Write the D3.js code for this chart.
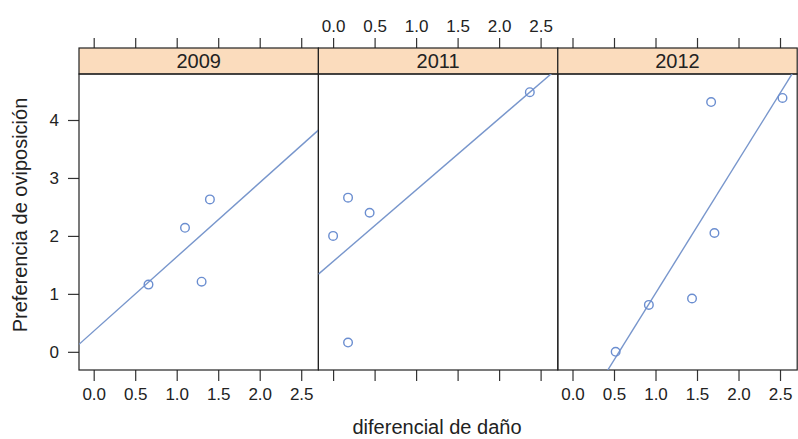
<!DOCTYPE html>
<html>
<head>
<meta charset="utf-8">
<script src="https://cdn.jsdelivr.net/npm/d3@7"></script>
<style>
  body { margin: 0; background: #fff; }
  svg text { font-family: "Liberation Sans", Arial, sans-serif; fill: #222; }
</style>
</head>
<body>
<svg id="chart" width="798" height="439"></svg>
<script>
// Panels (years) and the points of each one
var years = ["2009", "2011", "2012"];

var dano2009 = [0.66, 1.10, 1.40, 1.30];
var pref2009 = [1.16, 2.14, 2.63, 1.21];

var dano2011 = [0.00, 0.18, 0.44, 0.18, 2.37];
var pref2011 = [2.00, 2.66, 2.40, 0.16, 4.48];

var dano2012 = [0.52, 0.92, 1.44, 1.67, 1.71, 2.53];
var pref2012 = [0.00, 0.81, 0.92, 4.31, 2.05, 4.38];

var xTicks = [0, 0.5, 1, 1.5, 2, 2.5];
var yTicks = [0, 1, 2, 3, 4];

var xTitle = "diferencial de daño";
var yTitle = "Preferencia de oviposición";

// build panel table
var panels = years.map(function(y, i) {
  var xs = [dano2009, dano2011, dano2012][i];
  var ys = [pref2009, pref2011, pref2012][i];
  return { year: y, pts: xs.map(function(d, j) { return { x: d, y: ys[j] }; }) };
});

// Layout
var padLeft = 79, stripTop = 48, stripH = 26, panelW = 239.4, panelBottom = 370;
var panelTop = stripTop + stripH;
var ptColor = "#6b8ed0", lineColor = "#7896cc";

// Lattice style limits: data range padded by 7%
function padded(vals) {
  var ext = d3.extent(vals), pad = (ext[1] - ext[0]) * 0.07;
  return [ext[0] - pad, ext[1] + pad];
}
var allX = [].concat(dano2009, dano2011, dano2012);
var allY = [].concat(pref2009, pref2011, pref2012);

var yScale = d3.scaleLinear().domain(padded(allY)).range([panelBottom, panelTop]);

// Least squares fit (type = "r")
function fit(pts) {
  var mx = d3.mean(pts, function(d) { return d.x; });
  var my = d3.mean(pts, function(d) { return d.y; });
  var sxy = d3.sum(pts, function(d) { return (d.x - mx) * (d.y - my); });
  var sxx = d3.sum(pts, function(d) { return (d.x - mx) * (d.x - mx); });
  var b = sxy / sxx;
  return { a: my - b * mx, b: b };
}

var svg = d3.select("#chart");
var fmt = d3.format(".1f");

panels.forEach(function(p, i) {
  var x0 = padLeft + i * panelW;
  var x = d3.scaleLinear().domain(padded(allX)).range([x0, x0 + panelW]);
  var g = svg.append("g");

  // clip for the fitted line
  svg.append("clipPath").attr("id", "clip" + i)
    .append("rect")
      .attr("x", x0).attr("y", panelTop)
      .attr("width", panelW).attr("height", panelBottom - panelTop);

  // top axis (labels only on the middle panel)
  var topAxis = d3.axisTop(x).tickValues(xTicks).tickSize(10).tickPadding(6)
      .tickFormat(i == 1 ? fmt : "");
  g.append("g").attr("class", "axis").attr("transform", "translate(0," + stripTop + ")").call(topAxis);

  // bottom axis (labels on outer panels)
  var botAxis = d3.axisBottom(x).tickValues(xTicks).tickSize(11).tickPadding(7)
      .tickFormat(i != 1 ? fmt : "");
  g.append("g").attr("class", "axis").attr("transform", "translate(0," + panelBottom + ")").call(botAxis);

  if (i == 0) {
    var leftAxis = d3.axisLeft(yScale).tickValues(yTicks).tickSize(11).tickPadding(9)
        .tickFormat(d3.format("d"));
    g.append("g").attr("class", "axis").attr("transform", "translate(" + x0 + ",0)").call(leftAxis);
  }

  // strip
  g.append("rect")
    .attr("x", x0).attr("y", stripTop)
    .attr("width", panelW).attr("height", stripH)
    .attr("fill", "#fbdcbd").attr("stroke", "#222").attr("stroke-width", 1.2);
  g.append("text")
    .attr("x", x0 + panelW / 2).attr("y", stripTop + stripH / 2 + 7)
    .attr("text-anchor", "middle").attr("font-size", 20)
    .text(p.year);

  // panel box
  g.append("rect")
    .attr("x", x0).attr("y", panelTop)
    .attr("width", panelW).attr("height", panelBottom - panelTop)
    .attr("fill", "none").attr("stroke", "#222").attr("stroke-width", 1.2);

  // regression line
  var f = fit(p.pts);
  var xd = x.domain();
  g.append("line")
    .attr("clip-path", "url(#clip" + i + ")")
    .attr("x1", x(xd[0])).attr("y1", yScale(f.a + f.b * xd[0]))
    .attr("x2", x(xd[1])).attr("y2", yScale(f.a + f.b * xd[1]))
    .attr("stroke", lineColor).attr("stroke-width", 1.4);

  // points
  g.selectAll("circle.pt")
    .data(p.pts)
    .enter().append("circle")
      .attr("class", "pt")
      .attr("cx", function(d) { return x(d.x); })
      .attr("cy", function(d) { return yScale(d.y); })
      .attr("r", 4.3)
      .attr("fill", "none")
      .attr("stroke", ptColor)
      .attr("stroke-width", 1.4);
});

svg.selectAll(".axis path").remove();
svg.selectAll(".axis line").attr("stroke", "#333").attr("stroke-width", 1.2);
svg.selectAll(".axis text").attr("font-size", 17).attr("fill", "#333")
  .style("font-family", "'Liberation Sans', Arial, sans-serif");

// axis titles
svg.append("text")
  .attr("x", 437).attr("y", 434)
  .attr("text-anchor", "middle").attr("font-size", 20)
  .text(xTitle);

svg.append("text")
  .attr("transform", "translate(27,215) rotate(-90)")
  .attr("text-anchor", "middle").attr("font-size", 20)
  .text(yTitle);
</script>
</body>
</html>
